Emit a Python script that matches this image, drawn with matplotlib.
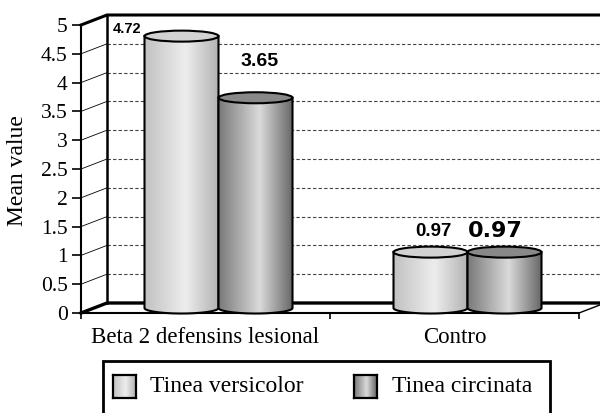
import matplotlib
matplotlib.use('Agg')

import matplotlib.pyplot as plt
import numpy as np
from matplotlib.patches import Rectangle, Ellipse, PathPatch
from matplotlib.path import Path
from matplotlib.colors import LinearSegmentedColormap

# ── Data ──────────────────────────────────────────────────────────────
categories = ['Beta 2 defensins lesional', 'Contro']
series_names = ['Tinea versicolor', 'Tinea circinata']
versicolor = [4.72, 0.97]
circinata = [3.65, 0.97]
value_labels = [['4.72', '0.97'], ['3.65', '0.97']]
yticks = np.arange(0, 5.01, 0.5)

# ── Style ─────────────────────────────────────────────────────────────
SERIF = 'Liberation Serif'
W, H = 600, 413
DEPTH_PX = (26, 10)          # 3-D depth offset of the back wall
BAR_PX = 74                  # cylinder width in pixels
ELL_PX = 11                  # height of cylinder cap ellipse

light_cmap = LinearSegmentedColormap.from_list(
    'light', [(0, '#c2c2c2'), (0.55, '#ededed'), (1, '#b2b2b2')])
dark_cmap = LinearSegmentedColormap.from_list(
    'dark', [(0, '#7a7a7a'), (0.55, '#dadada'), (1, '#666666')])
series_style = [(light_cmap, '#d2d2d2'), (dark_cmap, '#888888')]

fig = plt.figure(figsize=(W / 100, H / 100), dpi=100)
ax = fig.add_axes([81 / W, 1 - 313 / H, 498 / W, 288 / H])
ax.set_xlim(-0.5, len(categories) - 0.5)
ax.set_ylim(0, 5)
ax.patch.set_visible(False)
for s in ax.spines.values():
    s.set_visible(False)

# pixel -> data conversion for the pseudo 3-D offsets
ppx = ax.bbox.width / (ax.get_xlim()[1] - ax.get_xlim()[0])
ppy = ax.bbox.height / (ax.get_ylim()[1] - ax.get_ylim()[0])
bx, by = DEPTH_PX[0] / ppx, DEPTH_PX[1] / ppy
bw = BAR_PX / ppx
eh = ELL_PX / ppy
x_lo, x_hi = ax.get_xlim()
y_top = ax.get_ylim()[1]

# ── Walls and floor ───────────────────────────────────────────────────
ax.add_patch(Rectangle((x_lo + bx, by), x_hi - x_lo, y_top, fc='white',
                       ec='none', zorder=0, clip_on=False))
for t in yticks[1:-1]:
    ax.plot([x_lo + bx, x_hi + bx], [t + by, t + by], color='#444444',
            lw=0.8, ls=(0, (3, 2)), clip_on=False, zorder=1)
    ax.plot([x_lo, x_lo + bx], [t, t + by], color='black', lw=0.6,
            clip_on=False, zorder=1)

kw = dict(color='black', clip_on=False, solid_capstyle='projecting')
ax.plot([x_lo, x_lo + bx, x_hi + bx], [y_top, y_top + by, y_top + by], lw=2.2, zorder=2, **kw)
ax.plot([x_lo + bx, x_lo + bx], [by, y_top + by], lw=1.8, zorder=2, **kw)
ax.plot([x_lo, x_lo + bx, x_hi + bx], [0, by, by], lw=2.4, zorder=2, **kw)
ax.plot([x_hi, x_hi + bx], [0, by], lw=1.0, zorder=2, **kw)
ax.plot([x_lo, x_hi], [0, 0], lw=1.5, zorder=2, **kw)
ax.plot([x_lo, x_lo], [0, y_top], lw=1.5, zorder=2, **kw)


# ── Cylinders ─────────────────────────────────────────────────────────
def cylinder(xc, v, cmap, top_color, z):
    x0, x1 = xc - bw / 2, xc + bw / 2
    y0, yt = by / 2, v + by / 2
    t = np.linspace(np.pi, 2 * np.pi, 60)
    arc = np.column_stack([xc + bw / 2 * np.cos(t), y0 + eh / 2 * np.sin(t)])
    verts = np.vstack([[x0, yt], arc, [x1, yt], [x0, yt]])
    codes = [Path.MOVETO] + [Path.LINETO] * (len(verts) - 2) + [Path.CLOSEPOLY]
    body = PathPatch(Path(verts, codes), fc='none', ec='black', lw=1.5,
                     zorder=z + 0.2, clip_on=False)
    ax.add_patch(body)
    grad = np.linspace(0, 1, 256).reshape(1, -1)
    im = ax.imshow(grad, cmap=cmap, extent=[x0, x1, y0 - eh / 2, yt],
                   aspect='auto', interpolation='bilinear', origin='lower', zorder=z)
    im.set_clip_box(fig.bbox)
    im.set_clip_path(body)
    ax.add_patch(Ellipse((xc, yt), bw, eh, fc=top_color, ec='black', lw=1.5,
                         zorder=z + 0.3, clip_on=False))
    return xc, yt


label_offsets = [[(-54, 7), (3, 21)], [(4, 36), (-9, 21)]]
label_fonts = [[('Liberation Sans', 10.5), ('Liberation Sans', 13.5)],
               [('Liberation Sans', 14), ('DejaVu Sans', 16)]]

x = np.arange(len(categories))
for si, vals in enumerate([versicolor, circinata]):
    cmap, top_color = series_style[si]
    for ci, v in enumerate(vals):
        xc = x[ci] + (si - 0.5) * bw + bx / 2
        px, py = cylinder(xc, v, cmap, top_color, 3 + si)
        fam, fs = label_fonts[si][ci]
        ax.annotate(value_labels[si][ci], (px, py),
                    xytext=label_offsets[si][ci], textcoords='offset pixels',
                    ha='center', va='center', fontsize=fs, fontweight='bold',
                    family=fam, zorder=10, annotation_clip=False)

ax.set_xlim(x_lo, x_hi)
ax.set_ylim(0, y_top)

# ── Ticks ─────────────────────────────────────────────────────────────
ax.set_yticks(yticks)
ax.set_yticklabels([f'{t:g}' for t in yticks], family=SERIF, fontsize=15.5)
ax.tick_params(axis='y', direction='out', length=6.5, width=1.2, pad=3)
ax.set_xticks(np.arange(len(categories) + 1) - 0.5)
ax.set_xticklabels([])
ax.tick_params(axis='x', which='major', direction='out', length=4, width=1.2)
ax.set_xticks(x, minor=True)
ax.set_xticklabels(categories, minor=True, family=SERIF, fontsize=16.5)
ax.tick_params(axis='x', which='minor', length=0, pad=10)

fig.text(18 / W, 1 - 171 / H, 'Mean value', rotation=90, ha='center',
         va='center', family=SERIF, fontsize=17)

# ── Legend ────────────────────────────────────────────────────────────
fig.add_artist(Rectangle((103 / W, 1 - 430 / H), 447 / W, 69 / H, fill=False,
                         ec='black', lw=2, transform=fig.transFigure))
swatch_x = [113, 354]
text_x = [150, 392]
for si, name in enumerate(series_names):
    sax = fig.add_axes([swatch_x[si] / W, 1 - 398 / H, 23 / W, 23 / H])
    sax.imshow(np.linspace(0, 1, 64).reshape(1, -1), cmap=series_style[si][0],
               aspect='auto', interpolation='bilinear')
    sax.set_xticks([])
    sax.set_yticks([])
    for s in sax.spines.values():
        s.set_linewidth(1.6)
    fig.text(text_x[si] / W, 1 - 387 / H, name, ha='left', va='center',
             family=SERIF, fontsize=17)

fig.savefig('out.png', dpi=100)
